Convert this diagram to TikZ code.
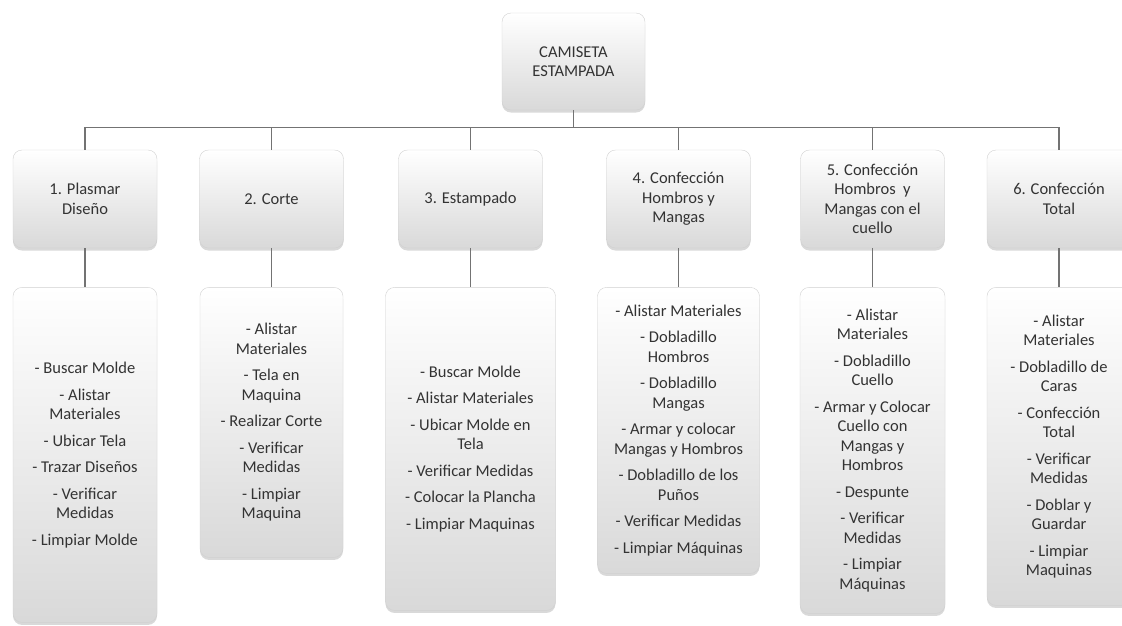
\documentclass[tikz,border=0pt]{standalone}
\usepackage{fontspec}
\setmainfont{Carlito}
\usetikzlibrary{positioning,shadows}

\begin{document}
\begin{tikzpicture}[x=1pt,y=-1pt,
    caja/.style={rounded corners=9pt, draw=black!18, top color=white, bottom color=black!15,
      drop shadow={opacity=0.3,shadow xshift=0pt,shadow yshift=-2.5pt},
      align=center, text=black!80, font=\fontsize{16.5}{19.5}\selectfont,
      minimum width=144pt, inner sep=4pt},
    fase/.style={caja, minimum height=98pt},
    link/.style={draw=black!55, line width=1.3pt}]

  \useasboundingbox (0,0) rectangle (1122,625);

  \node[caja, minimum width=143pt, minimum height=97pt] (top) at (573.5,61.5) {CAMISETA\\ESTAMPADA};

  \node[fase] (f1) at (85,199) {1. Plasmar\\Diseño};
  \node[fase] (f2) at (271.5,199) {2. Corte};
  \node[fase] (f3) at (470.5,199) {3. Estampado};
  \node[fase] (f4) at (678.5,199) {4. Confección\\Hombros y\\Mangas};
  \node[fase] (f5) at (872.5,199) {5. Confección\\Hombros~~y\\Mangas con el\\cuello};
  \node[fase] (f6) at (1059,199) {6. Confección\\Total};

  \node[caja, minimum height=335pt] (a1) [below=39pt of f1]
    {- Buscar Molde\\[7pt] - Alistar\\Materiales\\[7pt] - Ubicar Tela\\[7pt] - Trazar Diseños\\[7pt] - Verificar\\Medidas\\[7pt] - Limpiar Molde};
  \node[caja, minimum width=143pt, minimum height=270pt] (a2) [below=39pt of f2]
    {- Alistar\\Materiales\\[7pt] - Tela en\\Maquina\\[7pt] - Realizar Corte\\[7pt] - Verificar\\Medidas\\[7pt] - Limpiar\\Maquina};
  \node[caja, minimum width=170pt, minimum height=323pt] (a3) [below=39pt of f3]
    {- Buscar Molde\\[7pt] - Alistar Materiales\\[7pt] - Ubicar Molde en\\Tela\\[7pt] - Verificar Medidas\\[7pt] - Colocar la Plancha\\[7pt] - Limpiar Maquinas};
  \node[caja, minimum width=162pt, minimum height=286pt] (a4) [below=39pt of f4]
    {- Alistar Materiales\\[7pt] - Dobladillo\\Hombros\\[7pt] - Dobladillo\\Mangas\\[7pt] - Armar y colocar\\Mangas y Hombros\\[7pt] - Dobladillo de los\\Puños\\[7pt] - Verificar Medidas\\[7pt] - Limpiar Máquinas};
  \node[caja, minimum width=145pt, minimum height=326pt] (a5) [below=39pt of f5]
    {- Alistar\\Materiales\\[7pt] - Dobladillo\\Cuello\\[7pt] - Armar y Colocar\\Cuello con\\Mangas y\\Hombros\\[7pt] - Despunte\\[7pt] - Verificar\\Medidas\\[7pt] - Limpiar\\Máquinas};
  \node[caja, minimum height=318pt] (a6) [below=39pt of f6]
    {- Alistar\\Materiales\\[7pt] - Dobladillo de\\Caras\\[7pt] - Confección\\Total\\[7pt] - Verificar\\Medidas\\[7pt] - Doblar y\\Guardar\\[7pt] - Limpiar\\Maquinas};

  % conectores
  \foreach \i in {1,...,6} {
    \draw[link] (top.south) -- ++(0,17) -| (f\i.north);
    \draw[link] (f\i) -- (a\i);
  }
\end{tikzpicture}
\end{document}
